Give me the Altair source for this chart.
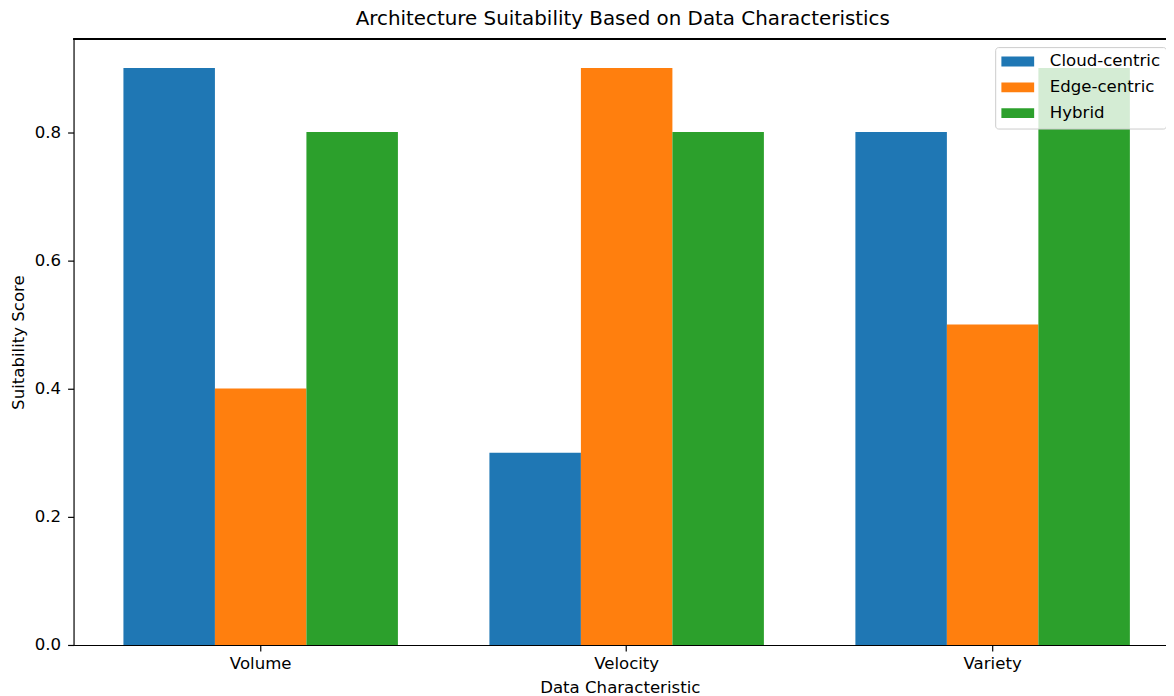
import altair as alt
import pandas as pd

categories = ["Volume", "Velocity", "Variety"]
series = ["Cloud-centric", "Edge-centric", "Hybrid"]
cloud = [0.9, 0.3, 0.8]
edge = [0.4, 0.9, 0.5]
hybrid = [0.8, 0.8, 0.9]
colors = ["#1f77b4", "#ff7f0e", "#2ca02c"]
y_ticks = [0.0, 0.2, 0.4, 0.6, 0.8]

rows = []
for vals, s in zip([cloud, edge, hybrid], series):
    for c, v in zip(categories, vals):
        rows.append({"Data Characteristic": c, "Architecture": s, "Score": v})
df = pd.DataFrame(rows)

W, H = 1100, 610
FONT = "DejaVu Sans"
FS = 16.7

bars = alt.Chart(df).mark_bar(stroke="transparent").encode(
    x=alt.X(
        "Data Characteristic:N",
        sort=categories,
        scale=alt.Scale(paddingInner=0.25, paddingOuter=0.1175, align=0.58),
        axis=alt.Axis(
            title="Data Characteristic",
            labelAngle=0,
            tickSize=6,
            labelPadding=5,
            titlePadding=7,
        ),
    ),
    xOffset=alt.XOffset(
        "Architecture:N",
        sort=series,
        scale=alt.Scale(paddingInner=0, paddingOuter=0),
    ),
    y=alt.Y(
        "Score:Q",
        scale=alt.Scale(domain=[0, 0.945], nice=False),
        axis=alt.Axis(
            title="Suitability Score",
            values=y_ticks,
            format=".1f",
            tickSize=6,
            labelPadding=7,
            titlePadding=7,
            grid=False,
        ),
    ),
    color=alt.Color(
        "Architecture:N",
        sort=series,
        scale=alt.Scale(domain=series, range=colors),
        legend=alt.Legend(
            title=None,
            orient="none",
            legendX=928,
            legendY=8,
            fillColor="rgba(255,255,255,0.8)",
            strokeColor="#cccccc",
            cornerRadius=3,
            padding=6,
            symbolType="M-1,-0.6H3V0.6H-1Z",
            symbolSize=272,
            symbolStrokeWidth=0,
            symbolOpacity=1,
            labelFont=FONT,
            labelFontSize=FS,
            labelColor="#000000",
            labelOffset=32,
            rowPadding=8,
            labelLimit=300,
        ),
    ),
)

top_spine = alt.Chart(df).mark_rule(color="#000000", strokeWidth=1.2).encode(
    x=alt.value(0), x2=alt.value(W), y=alt.value(0)
)

chart = (
    alt.layer(bars, top_spine)
    .properties(
        width=W,
        height=H,
        autosize=alt.AutoSizeParams(type="none"),
        padding={"left": 66, "top": 29, "right": 0, "bottom": 49},
        title=alt.TitleParams(
            text="Architecture Suitability Based on Data Characteristics",
            font=FONT,
            fontSize=20,
            fontWeight="normal",
            color="#000000",
            anchor="middle",
            offset=-10,
            baseline="bottom",
            dx=3,
        ),
    )
    .configure_view(stroke="transparent")
    .configure_axis(
        labelFont=FONT,
        labelFontSize=FS,
        labelColor="#000000",
        titleFont=FONT,
        titleFontSize=FS,
        titleFontWeight="normal",
        titleColor="#000000",
        domainColor="#000000",
        tickColor="#000000",
        domainWidth=1.2,
        tickWidth=1.2,
    )
)

chart.save("out.html", embed_options={"renderer": "svg", "actions": False})
